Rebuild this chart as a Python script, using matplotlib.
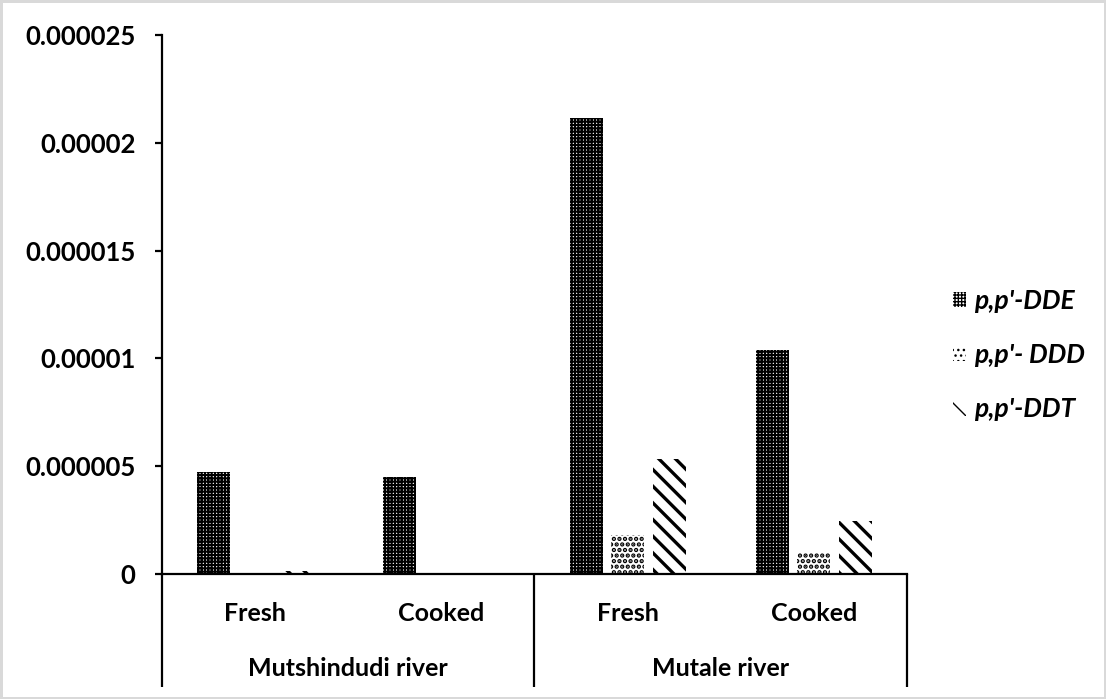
import numpy as np
import matplotlib.pyplot as plt

# datos
categorias = ["Fresh", "Cooked", "Fresh", "Cooked"]
rios = ["Mutshindudi river", "Mutale river"]
series = ["p,p'-DDE", "p,p'- DDD", "p,p'-DDT"]
dde = [4.73e-6, 4.50e-6, 21.15e-6, 10.39e-6]
ddd = [0.0, 0.0, 1.81e-6, 0.96e-6]
ddt = [0.12e-6, 0.0, 5.34e-6, 2.47e-6]
yticks = [0, 5e-6, 10e-6, 15e-6, 20e-6, 25e-6]
ytick_labels = ["0", "0.000005", "0.00001", "0.000015", "0.00002", "0.000025"]

plt.rcParams['font.family'] = ['Lato', 'DejaVu Sans']
plt.rcParams['font.weight'] = 'bold'

fig = plt.figure(figsize=(11.06, 6.99), dpi=100, linewidth=2.5, edgecolor="#d9d9d9")
ax = fig.add_axes([0.1465, 0.1788, 0.8200 - 0.1465, 0.95 - 0.1788])

x = np.arange(len(categorias))
ancho = 0.177
paso = 0.223

estilos = [("+++++", 1.5), ("...", 2.2), ("\\\\", 2.4)]
valores = [dde, ddd, ddt]
barras = []
for i in range(3):
    with plt.rc_context({'hatch.linewidth': estilos[i][1]}):
        b = ax.bar(x + (i - 1) * paso, valores[i], ancho, facecolor="white",
                   edgecolor="black", linewidth=0, hatch=estilos[i][0],
                   label=series[i])
    barras.append(b)

ax.set_xlim(-0.5, 3.5)
ax.set_ylim(0, 25e-6)
ax.set_yticks(yticks)
ax.set_yticklabels(ytick_labels)
ax.set_xticks(x)
ax.set_xticklabels(categorias)
ax.set_xticks([-0.5, 1.5, 3.5], minor=True)

ax.spines["top"].set_visible(False)
ax.spines["right"].set_visible(False)
ax.spines["left"].set_linewidth(1.6)
ax.spines["bottom"].set_linewidth(1.6)
ax.tick_params(axis="y", length=5, width=1.6, pad=14, labelsize=18.5)
ax.tick_params(axis="x", which="major", length=0, pad=20, labelsize=18)
ax.tick_params(axis="x", which="minor", length=81, width=1.6, direction="out")

for j, rio in enumerate(rios):
    ax.text(0.25 + 0.5 * j, -0.175, rio, transform=ax.transAxes, ha="center",
            va="center", fontsize=18, fontweight="bold")

fig.legend(handles=barras, labels=series, loc="center left",
           bbox_to_anchor=(0.84, 0.492), frameon=False, handlelength=0.5,
           handleheight=0.5, handletextpad=0.3, labelspacing=1.15,
           prop={"size": 19, "style": "italic", "weight": "bold"})

fig.savefig("out.png", dpi=100, edgecolor=fig.get_edgecolor())
